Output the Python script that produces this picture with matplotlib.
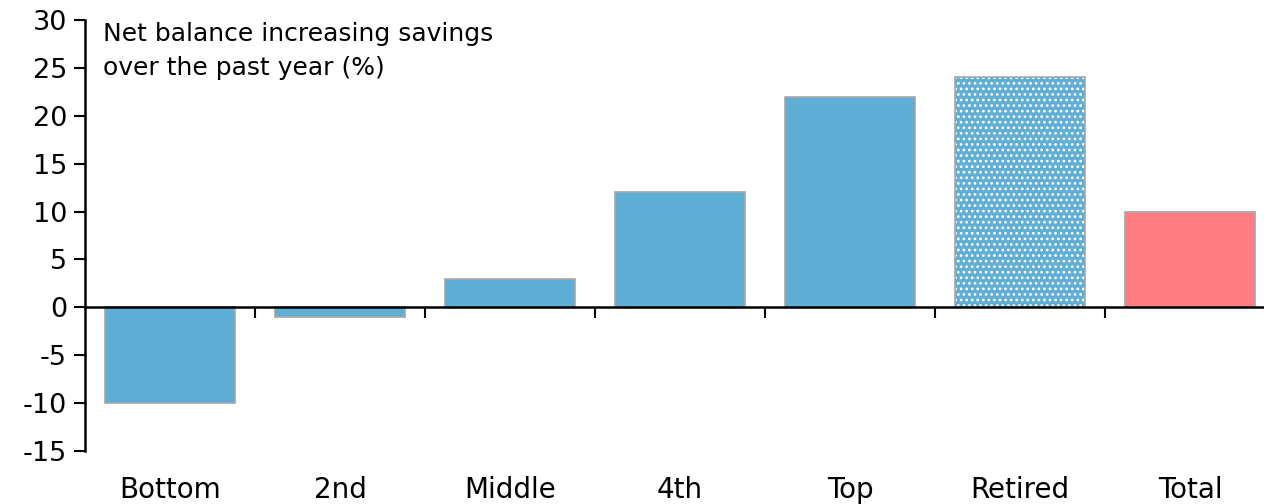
import matplotlib
matplotlib.use("Agg")
import matplotlib.pyplot as plt
import numpy as np

categories = ["Bottom", "2nd", "Middle", "4th", "Top", "Retired", "Total"]
values = [-10, -1, 3, 12, 22, 24, 10]
yticks = [-15, -10, -5, 0, 5, 10, 15, 20, 25, 30]

plt.rcParams['font.family'] = ['DejaVu Sans']
plt.rcParams['axes.unicode_minus'] = False
plt.rcParams['hatch.linewidth'] = 1.2

fig = plt.figure(figsize=(12.64, 5.04), dpi=100)
ax = fig.add_axes([85/1264, 53/504, 1190/1264, 431/504])

x = np.arange(len(categories))
blue = '#5FAED6'
red = '#FF7C80'
edge = '#A6A6A6'
w = 0.77
for i, v in enumerate(values):
    if categories[i] == "Retired":
        ax.bar(x[i], v, width=w, color=blue, edgecolor='white', hatch='...', linewidth=0, zorder=2)
        ax.bar(x[i], v, width=w, fill=False, edgecolor=edge, linewidth=1.2, zorder=3)
    else:
        c = red if categories[i] == "Total" else blue
        ax.bar(x[i], v, width=w, color=c, edgecolor=edge, linewidth=1.2, zorder=2)

ax.set_xlim(-0.5, len(categories) - 0.5)
ax.set_ylim(-15, 30)
ax.set_yticks(yticks)
ax.tick_params(axis='y', labelsize=19.5, length=8, width=1.5, direction='out', pad=5)

ax.spines['top'].set_visible(False)
ax.spines['right'].set_visible(False)
ax.spines['bottom'].set_position(('data', 0))
ax.spines['bottom'].set_linewidth(1.8)
ax.spines['left'].set_linewidth(1.8)
ax.spines['bottom'].set_zorder(4)

ax.set_xticks(np.arange(0.5, len(categories) - 0.5, 1.0))
ax.set_xticklabels([])
ax.tick_params(axis='x', length=8, width=1.5, direction='out')

for i, c in enumerate(categories):
    ax.text(x[i], -0.09, c, transform=ax.get_xaxis_transform(), ha='center', va='center', fontsize=20)

ax.text(0.015, 0.995, "Net balance increasing savings\nover the past year (%)", transform=ax.transAxes,
        ha='left', va='top', fontsize=18, linespacing=1.5)

fig.savefig("out.png", dpi=100)
